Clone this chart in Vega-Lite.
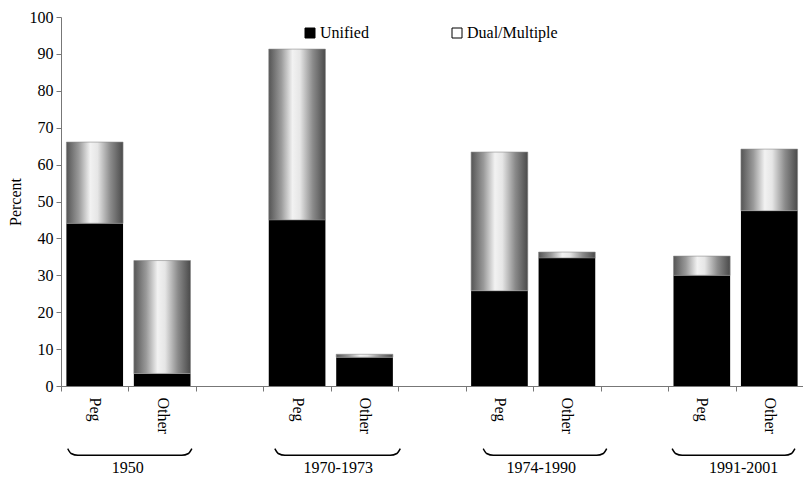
{
  "$schema": "https://vega.github.io/schema/vega-lite/v6.json",
  "width": 742,
  "height": 369,
  "autosize": {"type": "none"},
  "padding": {"left": 61, "top": 17, "right": 0, "bottom": 93},
  "background": "white",
  "config": {
    "font": "Liberation Serif",
    "view": {"stroke": null},
    "text": {"font": "Liberation Serif"},
    "axis": {"labelFont": "Liberation Serif", "titleFont": "Liberation Serif", "labelColor": "#000", "titleColor": "#000", "grid": false},
    "legend": {"labelFont": "Liberation Serif"}
  },
  "datasets": {
    "bars": [
      {"cat": "Peg1", "series": "Unified", "value": 44.1},
      {"cat": "Peg1", "series": "Dual/Multiple", "value": 22.0},
      {"cat": "Other1", "series": "Unified", "value": 3.4},
      {"cat": "Other1", "series": "Dual/Multiple", "value": 30.6},
      {"cat": "Peg2", "series": "Unified", "value": 45.0},
      {"cat": "Peg2", "series": "Dual/Multiple", "value": 46.3},
      {"cat": "Other2", "series": "Unified", "value": 7.8},
      {"cat": "Other2", "series": "Dual/Multiple", "value": 0.8},
      {"cat": "Peg3", "series": "Unified", "value": 25.8},
      {"cat": "Peg3", "series": "Dual/Multiple", "value": 37.6},
      {"cat": "Other3", "series": "Unified", "value": 34.7},
      {"cat": "Other3", "series": "Dual/Multiple", "value": 1.6},
      {"cat": "Peg4", "series": "Unified", "value": 30.0},
      {"cat": "Peg4", "series": "Dual/Multiple", "value": 5.2},
      {"cat": "Other4", "series": "Unified", "value": 47.5},
      {"cat": "Other4", "series": "Dual/Multiple", "value": 16.7}
    ],
    "braces": [
      {"group": "1950", "px": 0.10, "py": -17.0},
      {"group": "1950", "px": 0.15, "py": -18.3},
      {"group": "1950", "px": 0.25, "py": -18.8},
      {"group": "1950", "px": 1.79, "py": -18.8},
      {"group": "1950", "px": 1.89, "py": -18.3},
      {"group": "1950", "px": 1.94, "py": -17.0},
      {"group": "1970-1973", "px": 3.17, "py": -17.0},
      {"group": "1970-1973", "px": 3.22, "py": -18.3},
      {"group": "1970-1973", "px": 3.32, "py": -18.8},
      {"group": "1970-1973", "px": 4.88, "py": -18.8},
      {"group": "1970-1973", "px": 4.98, "py": -18.3},
      {"group": "1970-1973", "px": 5.03, "py": -17.0},
      {"group": "1974-1990", "px": 6.26, "py": -17.0},
      {"group": "1974-1990", "px": 6.31, "py": -18.3},
      {"group": "1974-1990", "px": 6.41, "py": -18.8},
      {"group": "1974-1990", "px": 7.94, "py": -18.8},
      {"group": "1974-1990", "px": 8.04, "py": -18.3},
      {"group": "1974-1990", "px": 8.09, "py": -17.0},
      {"group": "1991-2001", "px": 9.06, "py": -17.0},
      {"group": "1991-2001", "px": 9.11, "py": -18.3},
      {"group": "1991-2001", "px": 9.21, "py": -18.8},
      {"group": "1991-2001", "px": 10.73, "py": -18.8},
      {"group": "1991-2001", "px": 10.83, "py": -18.3},
      {"group": "1991-2001", "px": 10.88, "py": -17.0}
    ],
    "groupLabels": [
      {"label": "1950", "lx": 0.99, "ly": -22.2},
      {"label": "1970-1973", "lx": 4.11, "ly": -22.2},
      {"label": "1974-1990", "lx": 7.12, "ly": -22.2},
      {"label": "1991-2001", "lx": 10.12, "ly": -22.2}
    ]
  },
  "layer": [
    {
      "data": {"name": "bars"},
      "transform": [
        {"stack": "value", "groupby": ["cat"], "sort": [{"field": "series", "order": "descending"}], "as": ["v0", "v1"]}
      ],
      "encoding": {
        "x": {
          "field": "cat",
          "type": "nominal",
          "sort": null,
          "scale": {"domain": ["Peg1", "Other1", "g1", "Peg2", "Other2", "g2", "Peg3", "Other3", "g3", "Peg4", "Other4"], "paddingInner": 0, "paddingOuter": 0},
          "axis": {
            "title": null,
            "tickBand": "extent",
            "labelExpr": "substring(datum.label, 0, 1) == 'g' ? '' : substring(datum.label, 0, length(datum.label) - 1)",
            "labelAngle": 90,
            "labelAlign": "left",
            "labelBaseline": "middle",
            "labelFontSize": 16,
            "labelPadding": 6,
            "tickSize": 5,
            "domainColor": "#777",
            "tickColor": "#777"
          }
        },
        "y": {
          "field": "v1",
          "type": "quantitative",
          "scale": {"domain": [0, 100], "nice": false},
          "axis": {
            "title": "Percent",
            "titleFontSize": 16,
            "titleFontWeight": "normal",
            "titlePadding": 6,
            "values": [0, 10, 20, 30, 40, 50, 60, 70, 80, 90, 100],
            "labelFontSize": 16,
            "labelPadding": 3,
            "tickSize": 5,
            "domainColor": "#777",
            "tickColor": "#777"
          }
        },
        "y2": {"field": "v0"}
      },
      "layer": [
        {
          "mark": {"type": "bar", "width": {"band": 0.84}},
          "encoding": {
            "color": {
              "field": "series",
              "type": "nominal",
              "scale": {"domain": ["Unified", "Dual/Multiple"], "range": ["#000000", "#ffffff"]},
              "legend": {
                "title": null,
                "orient": "none",
                "legendX": 241,
                "legendY": 8,
                "direction": "horizontal",
                "columnPadding": 80,
                "symbolType": "square",
                "symbolSize": 100,
                "symbolStrokeColor": "#000",
                "symbolStrokeWidth": 1,
                "labelFontSize": 16,
                "labelColor": "#000",
                "labelOffset": 2
              }
            }
          }
        },
        {
          "transform": [{"filter": "datum.series == 'Dual/Multiple'"}],
          "mark": {
            "type": "bar",
            "width": {"band": 0.84},
            "stroke": "#8a8a8a",
            "strokeWidth": 0.6,
            "fill": {
              "gradient": "linear",
              "x1": 0, "x2": 1, "y1": 0, "y2": 0,
              "stops": [
                {"offset": 0, "color": "#555555"},
                {"offset": 0.22, "color": "#9a9a9a"},
                {"offset": 0.42, "color": "#f2f2f2"},
                {"offset": 0.55, "color": "#e6e6e6"},
                {"offset": 0.78, "color": "#8a8a8a"},
                {"offset": 1, "color": "#4a4a4a"}
              ]
            }
          }
        }
      ]
    },
    {
      "layer": [
        {
          "data": {"name": "braces"},
          "mark": {"type": "line", "interpolate": "monotone", "color": "#000", "strokeWidth": 1.5, "clip": false},
          "encoding": {
            "x": {"field": "px", "type": "quantitative", "scale": {"domain": [0, 11], "nice": false, "zero": false}, "axis": null},
            "y": {"field": "py", "type": "quantitative", "scale": {"domain": [0, 100], "nice": false}, "axis": null},
            "detail": {"field": "group"}
          }
        },
        {
          "data": {"name": "groupLabels"},
          "mark": {"type": "text", "fontSize": 16, "color": "#000", "align": "center", "baseline": "middle", "font": "Liberation Serif"},
          "encoding": {
            "x": {"field": "lx", "type": "quantitative", "scale": {"domain": [0, 11], "nice": false, "zero": false}, "axis": null},
            "y": {"field": "ly", "type": "quantitative", "scale": {"domain": [0, 100], "nice": false}, "axis": null},
            "text": {"field": "label"}
          }
        }
      ]
    }
  ],
  "resolve": {"scale": {"x": "independent", "y": "independent"}}
}
